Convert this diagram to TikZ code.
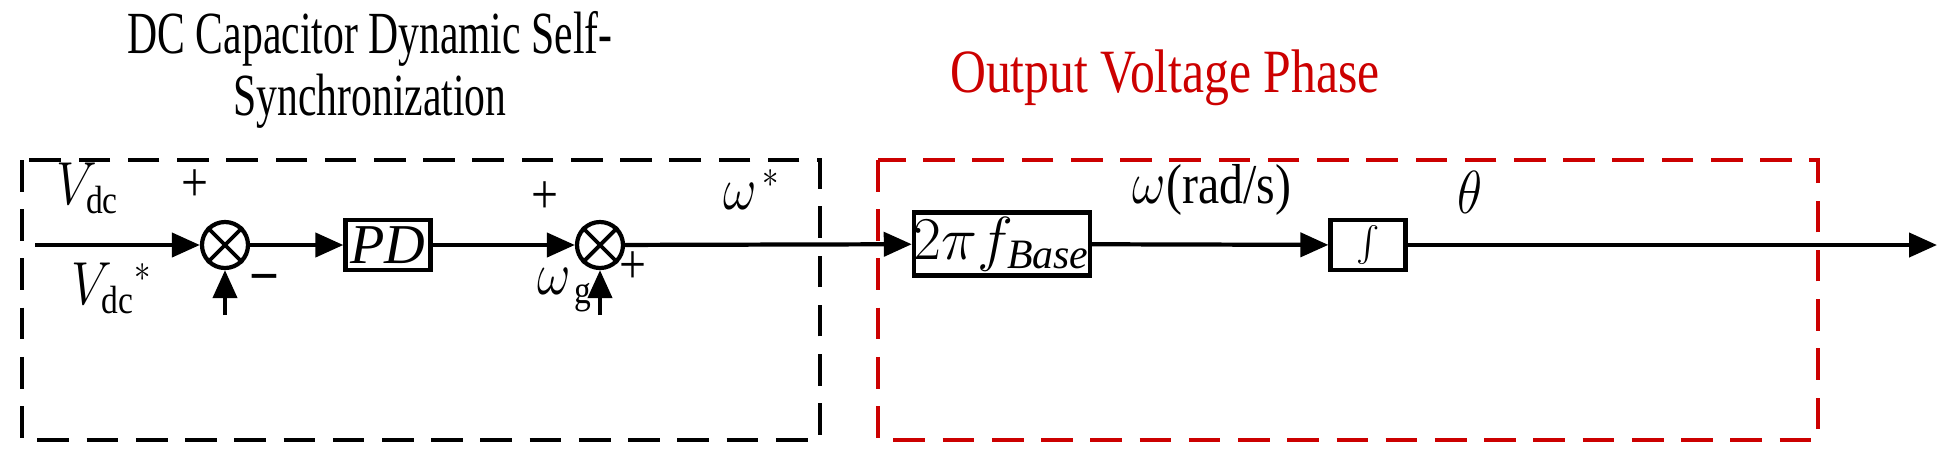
\documentclass[tikz,border=0pt]{standalone}
\usepackage{fontspec}
\setmainfont{Liberation Serif}
\usetikzlibrary{positioning, arrows.meta}

\begin{document}
\begin{tikzpicture}[
            x=0.01cm, y=-0.01cm,
            font=\fontsize{16}{18}\selectfont,
            txt/.style={xscale=0.85, transform shape, inner sep=0pt},
            block/.style={rectangle, draw, line width=1.2pt, inner sep=0pt},
            sum/.style={circle, draw, line width=1.2pt, inner sep=0pt, minimum size=0.46cm},
            arrow/.style={draw, line width=1.2pt, -{Triangle[length=2.8mm, width=2.4mm]}},
            group/.style={draw, line width=1.3pt, dash pattern=on 9pt off 5pt}
        ]
            \useasboundingbox (0,0) rectangle (1942,451);

            % --- Group frames and titles ---
            \draw[group] (22,160) rectangle (820,440);
            \draw[group, red!80!black] (878,160) rectangle (1818,440);
            \node[txt, xscale=0.82, align=center, font=\fontsize{17}{17.5}\selectfont] (title1) at (370,70)
                {DC Capacitor Dynamic Self-\\Synchronization};
            \node[txt, xscale=0.95, red!80!black, font=\fontsize{17.5}{19}\selectfont] (title2) at (1165,78) {Output Voltage Phase};

            % --- Blocks ---
            \coordinate (in) at (35,245);
            \node[sum] (s1) at (225,245) {};
            \node[block, minimum width=0.85cm, minimum height=0.5cm, font=\fontsize{16}{18}\selectfont\itshape] (pd) at (388,245) {PD};
            \node[sum] (s2) at (600,245) {};
            \node[block, minimum width=1.67cm, minimum height=0.63cm, font=\fontsize{17}{19}\selectfont] (gain) at (1002,244) {$2\pi f_{\mathit{Base}}$};
            \node[block, minimum width=0.75cm, minimum height=0.5cm] (int) at (1368,245) {$\int$};
            \coordinate (out) at (1937,245);
            \coordinate (ref1) at (225,315);
            \coordinate (ref2) at (600,315);

            \foreach \s in {s1, s2} {
                \draw[line width=1.1pt] (\s.north west) -- (\s.south east) (\s.south west) -- (\s.north east);
            }

            % --- Signals ---
            \draw[arrow] (in) -- (s1);
            \draw[arrow] (ref1) -- (s1);
            \draw[arrow] (s1) -- (pd);
            \draw[arrow] (pd) -- (s2);
            \draw[arrow] (ref2) -- (s2);
            \draw[arrow] (s2) -- (gain);
            \draw[arrow] (gain) -- (int);
            \draw[arrow] (int) -- (out);

            % --- Labels ---
            \node[txt] (vdc) at (88,188) {$V_{\mathrm{dc}}$};
            \node[txt] (p1) at (195,186) {+};
            \node[txt] (vdcs) at (112,288) {$V_{\mathrm{dc}}{}^{*}$};
            \node[txt] (m1) at (265,282) {\textbf{--}};
            \node[txt] (p2) at (545,198) {+};
            \node[txt] (wg) at (565,290) {$\omega_{\,\mathrm{g}}$};
            \node[txt] (p3) at (633,268) {+};
            \node[txt] (ws) at (752,190) {$\omega^{\,*}$};
            \node[txt] (w) at (1212,190) {$\omega$(rad/s)};
            \node[txt] (th) at (1470,192) {$\theta$};

        \end{tikzpicture}
\end{document}
